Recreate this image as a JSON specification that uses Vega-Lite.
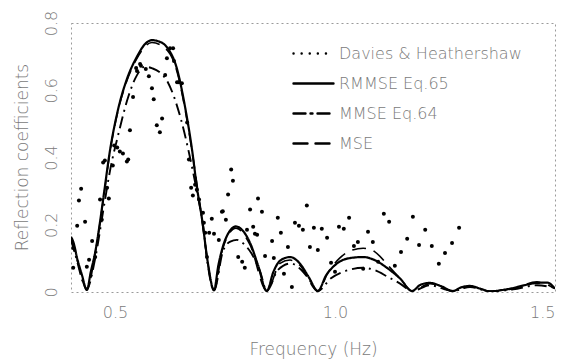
{
  "$schema": "https://vega.github.io/schema/vega-lite/v6.json",
  "width": 484,
  "height": 269,
  "autosize": {"type": "none"},
  "padding": {"left": 71, "top": 23, "right": 16, "bottom": 70},
  "background": "white",
  "config": {
    "view": {"stroke": "#9a9a9a", "strokeDash": [2, 3], "strokeWidth": 1},
    "font": "DejaVu Sans",
    "axis": {"grid": false, "domain": false, "labelFont": "DejaVu Sans", "titleFont": "DejaVu Sans", "labelColor": "#7a7a7a", "titleColor": "#7a7a7a", "labelFontSize": 16, "titleFontSize": 17, "titleFontWeight": 200, "labelFontWeight": 200},
    "legend": {"labelFont": "DejaVu Sans", "labelColor": "#7a7a7a", "labelFontSize": 16, "labelFontWeight": 200}
  },
  "datasets": {
    "curves": [
      {"series": "RMMSE Eq.65", "f": 0.400, "r": 0.164},
      {"series": "RMMSE Eq.65", "f": 0.405, "r": 0.150},
      {"series": "RMMSE Eq.65", "f": 0.415, "r": 0.095},
      {"series": "RMMSE Eq.65", "f": 0.425, "r": 0.050},
      {"series": "RMMSE Eq.65", "f": 0.436, "r": 0.006},
      {"series": "RMMSE Eq.65", "f": 0.445, "r": 0.060},
      {"series": "RMMSE Eq.65", "f": 0.455, "r": 0.118},
      {"series": "RMMSE Eq.65", "f": 0.465, "r": 0.200},
      {"series": "RMMSE Eq.65", "f": 0.473, "r": 0.275},
      {"series": "RMMSE Eq.65", "f": 0.489, "r": 0.424},
      {"series": "RMMSE Eq.65", "f": 0.507, "r": 0.543},
      {"series": "RMMSE Eq.65", "f": 0.527, "r": 0.633},
      {"series": "RMMSE Eq.65", "f": 0.550, "r": 0.700},
      {"series": "RMMSE Eq.65", "f": 0.568, "r": 0.737},
      {"series": "RMMSE Eq.65", "f": 0.584, "r": 0.749},
      {"series": "RMMSE Eq.65", "f": 0.600, "r": 0.745},
      {"series": "RMMSE Eq.65", "f": 0.618, "r": 0.728},
      {"series": "RMMSE Eq.65", "f": 0.641, "r": 0.663},
      {"series": "RMMSE Eq.65", "f": 0.659, "r": 0.552},
      {"series": "RMMSE Eq.65", "f": 0.675, "r": 0.424},
      {"series": "RMMSE Eq.65", "f": 0.686, "r": 0.313},
      {"series": "RMMSE Eq.65", "f": 0.698, "r": 0.215},
      {"series": "RMMSE Eq.65", "f": 0.711, "r": 0.087},
      {"series": "RMMSE Eq.65", "f": 0.725, "r": 0.005},
      {"series": "RMMSE Eq.65", "f": 0.735, "r": 0.080},
      {"series": "RMMSE Eq.65", "f": 0.745, "r": 0.134},
      {"series": "RMMSE Eq.65", "f": 0.760, "r": 0.180},
      {"series": "RMMSE Eq.65", "f": 0.775, "r": 0.195},
      {"series": "RMMSE Eq.65", "f": 0.790, "r": 0.183},
      {"series": "RMMSE Eq.65", "f": 0.807, "r": 0.146},
      {"series": "RMMSE Eq.65", "f": 0.825, "r": 0.080},
      {"series": "RMMSE Eq.65", "f": 0.845, "r": 0.003},
      {"series": "RMMSE Eq.65", "f": 0.860, "r": 0.060},
      {"series": "RMMSE Eq.65", "f": 0.875, "r": 0.093},
      {"series": "RMMSE Eq.65", "f": 0.898, "r": 0.104},
      {"series": "RMMSE Eq.65", "f": 0.920, "r": 0.085},
      {"series": "RMMSE Eq.65", "f": 0.940, "r": 0.045},
      {"series": "RMMSE Eq.65", "f": 0.961, "r": 0.003},
      {"series": "RMMSE Eq.65", "f": 0.980, "r": 0.050},
      {"series": "RMMSE Eq.65", "f": 1.000, "r": 0.080},
      {"series": "RMMSE Eq.65", "f": 1.030, "r": 0.100},
      {"series": "RMMSE Eq.65", "f": 1.064, "r": 0.104},
      {"series": "RMMSE Eq.65", "f": 1.090, "r": 0.095},
      {"series": "RMMSE Eq.65", "f": 1.120, "r": 0.070},
      {"series": "RMMSE Eq.65", "f": 1.148, "r": 0.040},
      {"series": "RMMSE Eq.65", "f": 1.175, "r": 0.003},
      {"series": "RMMSE Eq.65", "f": 1.195, "r": 0.022},
      {"series": "RMMSE Eq.65", "f": 1.216, "r": 0.027},
      {"series": "RMMSE Eq.65", "f": 1.240, "r": 0.018},
      {"series": "RMMSE Eq.65", "f": 1.268, "r": 0.003},
      {"series": "RMMSE Eq.65", "f": 1.287, "r": 0.014},
      {"series": "RMMSE Eq.65", "f": 1.307, "r": 0.018},
      {"series": "RMMSE Eq.65", "f": 1.330, "r": 0.010},
      {"series": "RMMSE Eq.65", "f": 1.352, "r": 0.002},
      {"series": "RMMSE Eq.65", "f": 1.380, "r": 0.006},
      {"series": "RMMSE Eq.65", "f": 1.405, "r": 0.012},
      {"series": "RMMSE Eq.65", "f": 1.430, "r": 0.020},
      {"series": "RMMSE Eq.65", "f": 1.459, "r": 0.027},
      {"series": "RMMSE Eq.65", "f": 1.482, "r": 0.028},
      {"series": "RMMSE Eq.65", "f": 1.500, "r": 0.010},

      {"series": "MMSE Eq.64", "f": 0.400, "r": 0.155},
      {"series": "MMSE Eq.64", "f": 0.410, "r": 0.110},
      {"series": "MMSE Eq.64", "f": 0.436, "r": 0.010},
      {"series": "MMSE Eq.64", "f": 0.455, "r": 0.100},
      {"series": "MMSE Eq.64", "f": 0.473, "r": 0.240},
      {"series": "MMSE Eq.64", "f": 0.490, "r": 0.370},
      {"series": "MMSE Eq.64", "f": 0.507, "r": 0.466},
      {"series": "MMSE Eq.64", "f": 0.530, "r": 0.580},
      {"series": "MMSE Eq.64", "f": 0.550, "r": 0.645},
      {"series": "MMSE Eq.64", "f": 0.568, "r": 0.670},
      {"series": "MMSE Eq.64", "f": 0.585, "r": 0.665},
      {"series": "MMSE Eq.64", "f": 0.600, "r": 0.655},
      {"series": "MMSE Eq.64", "f": 0.620, "r": 0.624},
      {"series": "MMSE Eq.64", "f": 0.650, "r": 0.513},
      {"series": "MMSE Eq.64", "f": 0.668, "r": 0.415},
      {"series": "MMSE Eq.64", "f": 0.686, "r": 0.300},
      {"series": "MMSE Eq.64", "f": 0.700, "r": 0.200},
      {"series": "MMSE Eq.64", "f": 0.711, "r": 0.080},
      {"series": "MMSE Eq.64", "f": 0.725, "r": 0.005},
      {"series": "MMSE Eq.64", "f": 0.745, "r": 0.120},
      {"series": "MMSE Eq.64", "f": 0.762, "r": 0.150},
      {"series": "MMSE Eq.64", "f": 0.777, "r": 0.155},
      {"series": "MMSE Eq.64", "f": 0.795, "r": 0.140},
      {"series": "MMSE Eq.64", "f": 0.810, "r": 0.115},
      {"series": "MMSE Eq.64", "f": 0.830, "r": 0.060},
      {"series": "MMSE Eq.64", "f": 0.845, "r": 0.003},
      {"series": "MMSE Eq.64", "f": 0.870, "r": 0.065},
      {"series": "MMSE Eq.64", "f": 0.900, "r": 0.085},
      {"series": "MMSE Eq.64", "f": 0.920, "r": 0.070},
      {"series": "MMSE Eq.64", "f": 0.940, "r": 0.040},
      {"series": "MMSE Eq.64", "f": 0.961, "r": 0.003},
      {"series": "MMSE Eq.64", "f": 0.990, "r": 0.040},
      {"series": "MMSE Eq.64", "f": 1.030, "r": 0.065},
      {"series": "MMSE Eq.64", "f": 1.064, "r": 0.072},
      {"series": "MMSE Eq.64", "f": 1.090, "r": 0.065},
      {"series": "MMSE Eq.64", "f": 1.120, "r": 0.045},
      {"series": "MMSE Eq.64", "f": 1.148, "r": 0.025},
      {"series": "MMSE Eq.64", "f": 1.175, "r": 0.003},
      {"series": "MMSE Eq.64", "f": 1.216, "r": 0.020},
      {"series": "MMSE Eq.64", "f": 1.268, "r": 0.003},
      {"series": "MMSE Eq.64", "f": 1.307, "r": 0.015},
      {"series": "MMSE Eq.64", "f": 1.352, "r": 0.002},
      {"series": "MMSE Eq.64", "f": 1.405, "r": 0.008},
      {"series": "MMSE Eq.64", "f": 1.459, "r": 0.020},
      {"series": "MMSE Eq.64", "f": 1.500, "r": 0.012},

      {"series": "MSE", "f": 0.400, "r": 0.160},
      {"series": "MSE", "f": 0.415, "r": 0.090},
      {"series": "MSE", "f": 0.436, "r": 0.008},
      {"series": "MSE", "f": 0.455, "r": 0.115},
      {"series": "MSE", "f": 0.473, "r": 0.270},
      {"series": "MSE", "f": 0.489, "r": 0.420},
      {"series": "MSE", "f": 0.507, "r": 0.540},
      {"series": "MSE", "f": 0.527, "r": 0.628},
      {"series": "MSE", "f": 0.550, "r": 0.695},
      {"series": "MSE", "f": 0.584, "r": 0.742},
      {"series": "MSE", "f": 0.618, "r": 0.720},
      {"series": "MSE", "f": 0.641, "r": 0.655},
      {"series": "MSE", "f": 0.659, "r": 0.545},
      {"series": "MSE", "f": 0.675, "r": 0.420},
      {"series": "MSE", "f": 0.698, "r": 0.210},
      {"series": "MSE", "f": 0.711, "r": 0.085},
      {"series": "MSE", "f": 0.725, "r": 0.005},
      {"series": "MSE", "f": 0.745, "r": 0.130},
      {"series": "MSE", "f": 0.775, "r": 0.190},
      {"series": "MSE", "f": 0.807, "r": 0.140},
      {"series": "MSE", "f": 0.845, "r": 0.003},
      {"series": "MSE", "f": 0.875, "r": 0.085},
      {"series": "MSE", "f": 0.898, "r": 0.095},
      {"series": "MSE", "f": 0.920, "r": 0.080},
      {"series": "MSE", "f": 0.961, "r": 0.003},
      {"series": "MSE", "f": 0.985, "r": 0.060},
      {"series": "MSE", "f": 1.010, "r": 0.100},
      {"series": "MSE", "f": 1.040, "r": 0.125},
      {"series": "MSE", "f": 1.064, "r": 0.130},
      {"series": "MSE", "f": 1.090, "r": 0.120},
      {"series": "MSE", "f": 1.120, "r": 0.080},
      {"series": "MSE", "f": 1.148, "r": 0.040},
      {"series": "MSE", "f": 1.175, "r": 0.003},
      {"series": "MSE", "f": 1.216, "r": 0.025},
      {"series": "MSE", "f": 1.268, "r": 0.003},
      {"series": "MSE", "f": 1.307, "r": 0.017},
      {"series": "MSE", "f": 1.352, "r": 0.002},
      {"series": "MSE", "f": 1.405, "r": 0.010},
      {"series": "MSE", "f": 1.459, "r": 0.030},
      {"series": "MSE", "f": 1.500, "r": 0.010}
    ],
    "obs": [
      {"f": 0.405, "r": 0.072}, {"f": 0.405, "r": 0.131}, {"f": 0.414, "r": 0.197}, {"f": 0.418, "r": 0.272},
      {"f": 0.423, "r": 0.307}, {"f": 0.432, "r": 0.209}, {"f": 0.436, "r": 0.075}, {"f": 0.441, "r": 0.096},
      {"f": 0.448, "r": 0.152}, {"f": 0.455, "r": 0.104}, {"f": 0.466, "r": 0.275}, {"f": 0.470, "r": 0.215},
      {"f": 0.473, "r": 0.385}, {"f": 0.477, "r": 0.391}, {"f": 0.482, "r": 0.310}, {"f": 0.486, "r": 0.278},
      {"f": 0.495, "r": 0.376}, {"f": 0.498, "r": 0.436}, {"f": 0.505, "r": 0.430}, {"f": 0.511, "r": 0.418},
      {"f": 0.518, "r": 0.412}, {"f": 0.527, "r": 0.388}, {"f": 0.530, "r": 0.394}, {"f": 0.534, "r": 0.481},
      {"f": 0.541, "r": 0.580}, {"f": 0.548, "r": 0.666}, {"f": 0.550, "r": 0.657}, {"f": 0.557, "r": 0.678},
      {"f": 0.559, "r": 0.673}, {"f": 0.570, "r": 0.663}, {"f": 0.577, "r": 0.642}, {"f": 0.584, "r": 0.606},
      {"f": 0.588, "r": 0.573}, {"f": 0.595, "r": 0.496}, {"f": 0.602, "r": 0.475}, {"f": 0.607, "r": 0.516},
      {"f": 0.614, "r": 0.645}, {"f": 0.618, "r": 0.695}, {"f": 0.625, "r": 0.725}, {"f": 0.632, "r": 0.725},
      {"f": 0.634, "r": 0.687}, {"f": 0.641, "r": 0.624}, {"f": 0.645, "r": 0.624}, {"f": 0.652, "r": 0.621},
      {"f": 0.664, "r": 0.504}, {"f": 0.668, "r": 0.394}, {"f": 0.673, "r": 0.310}, {"f": 0.677, "r": 0.287},
      {"f": 0.682, "r": 0.319}, {"f": 0.686, "r": 0.304}, {"f": 0.691, "r": 0.275}, {"f": 0.700, "r": 0.236},
      {"f": 0.702, "r": 0.206}, {"f": 0.705, "r": 0.176}, {"f": 0.709, "r": 0.104}, {"f": 0.714, "r": 0.176},
      {"f": 0.720, "r": 0.218}, {"f": 0.725, "r": 0.173}, {"f": 0.736, "r": 0.155}, {"f": 0.743, "r": 0.239},
      {"f": 0.745, "r": 0.240}, {"f": 0.752, "r": 0.215}, {"f": 0.757, "r": 0.290}, {"f": 0.764, "r": 0.364},
      {"f": 0.768, "r": 0.331}, {"f": 0.780, "r": 0.104}, {"f": 0.789, "r": 0.090}, {"f": 0.795, "r": 0.072},
      {"f": 0.800, "r": 0.185}, {"f": 0.807, "r": 0.245}, {"f": 0.814, "r": 0.194}, {"f": 0.818, "r": 0.173},
      {"f": 0.823, "r": 0.170}, {"f": 0.825, "r": 0.278}, {"f": 0.834, "r": 0.239}, {"f": 0.841, "r": 0.107},
      {"f": 0.857, "r": 0.152}, {"f": 0.861, "r": 0.101}, {"f": 0.870, "r": 0.221}, {"f": 0.877, "r": 0.176},
      {"f": 0.884, "r": 0.054}, {"f": 0.893, "r": 0.134}, {"f": 0.902, "r": 0.015}, {"f": 0.909, "r": 0.206},
      {"f": 0.918, "r": 0.197}, {"f": 0.927, "r": 0.185}, {"f": 0.936, "r": 0.257}, {"f": 0.943, "r": 0.134},
      {"f": 0.952, "r": 0.191}, {"f": 0.961, "r": 0.125}, {"f": 0.970, "r": 0.188}, {"f": 0.982, "r": 0.161},
      {"f": 0.991, "r": 0.087}, {"f": 1.000, "r": 0.060}, {"f": 1.009, "r": 0.194}, {"f": 1.020, "r": 0.188},
      {"f": 1.032, "r": 0.221}, {"f": 1.043, "r": 0.137}, {"f": 1.052, "r": 0.149}, {"f": 1.064, "r": 0.069},
      {"f": 1.075, "r": 0.179}, {"f": 1.086, "r": 0.149}, {"f": 1.098, "r": 0.090}, {"f": 1.111, "r": 0.233},
      {"f": 1.123, "r": 0.209}, {"f": 1.136, "r": 0.078}, {"f": 1.150, "r": 0.119}, {"f": 1.164, "r": 0.158},
      {"f": 1.177, "r": 0.224}, {"f": 1.191, "r": 0.140}, {"f": 1.205, "r": 0.185}, {"f": 1.220, "r": 0.137},
      {"f": 1.236, "r": 0.084}, {"f": 1.250, "r": 0.116}, {"f": 1.266, "r": 0.146}, {"f": 1.282, "r": 0.191}
    ]
  },
  "layer": [
    {
      "data": {"name": "curves"},
      "mark": {"type": "line", "interpolate": "monotone", "color": "black", "clip": true},
      "encoding": {
        "x": {"field": "f", "type": "quantitative", "scale": {"domain": [0.4, 1.5], "nice": false, "zero": false},
          "axis": {"values": [0.5, 1.0, 1.5], "format": ".1f", "ticks": false, "labelPadding": 12, "title": "Frequency (Hz)", "titleX": 242, "titleY": 57, "titleBaseline": "middle"}},
        "y": {"field": "r", "type": "quantitative", "scale": {"domain": [0, 0.8], "nice": false, "zero": true},
          "axis": {"values": [0, 0.2, 0.4, 0.6, 0.8], "format": "~g", "ticks": false, "labelAngle": 270, "labelAlign": "center", "labelBaseline": "bottom", "labelPadding": 12, "title": "Reflection coefficients", "titleAngle": 270, "titleX": -49, "titleY": 134, "titleAlign": "center", "titleBaseline": "middle"}},
        "detail": {"field": "series"},
        "strokeDash": {"field": "series", "type": "nominal",
          "scale": {"domain": ["Davies & Heathershaw", "RMMSE Eq.65", "MMSE Eq.64", "MSE"], "range": [[0.1, 8], [1, 0], [12, 5, 2, 5], [14, 8]]},
          "legend": {"title": null, "orient": "none", "legendX": 221, "legendY": 9, "symbolType": "stroke", "symbolSize": 1600, "symbolStrokeWidth": 2.4, "symbolStrokeColor": "black", "labelOffset": 4, "labelLimit": 0, "rowPadding": -5, "padding": 0,
            "encode": {"symbols": {"update": {"strokeCap": {"value": "round"}}}}}},
        "strokeWidth": {"field": "series", "type": "nominal", "scale": {"domain": ["RMMSE Eq.65", "MMSE Eq.64", "MSE"], "range": [2.2, 1.6, 1.6]}, "legend": null}
      }
    },
    {
      "data": {"name": "obs"},
      "mark": {"type": "circle", "color": "black", "size": 16, "opacity": 1},
      "encoding": {
        "x": {"field": "f", "type": "quantitative"},
        "y": {"field": "r", "type": "quantitative"}
      }
    }
  ]
}
